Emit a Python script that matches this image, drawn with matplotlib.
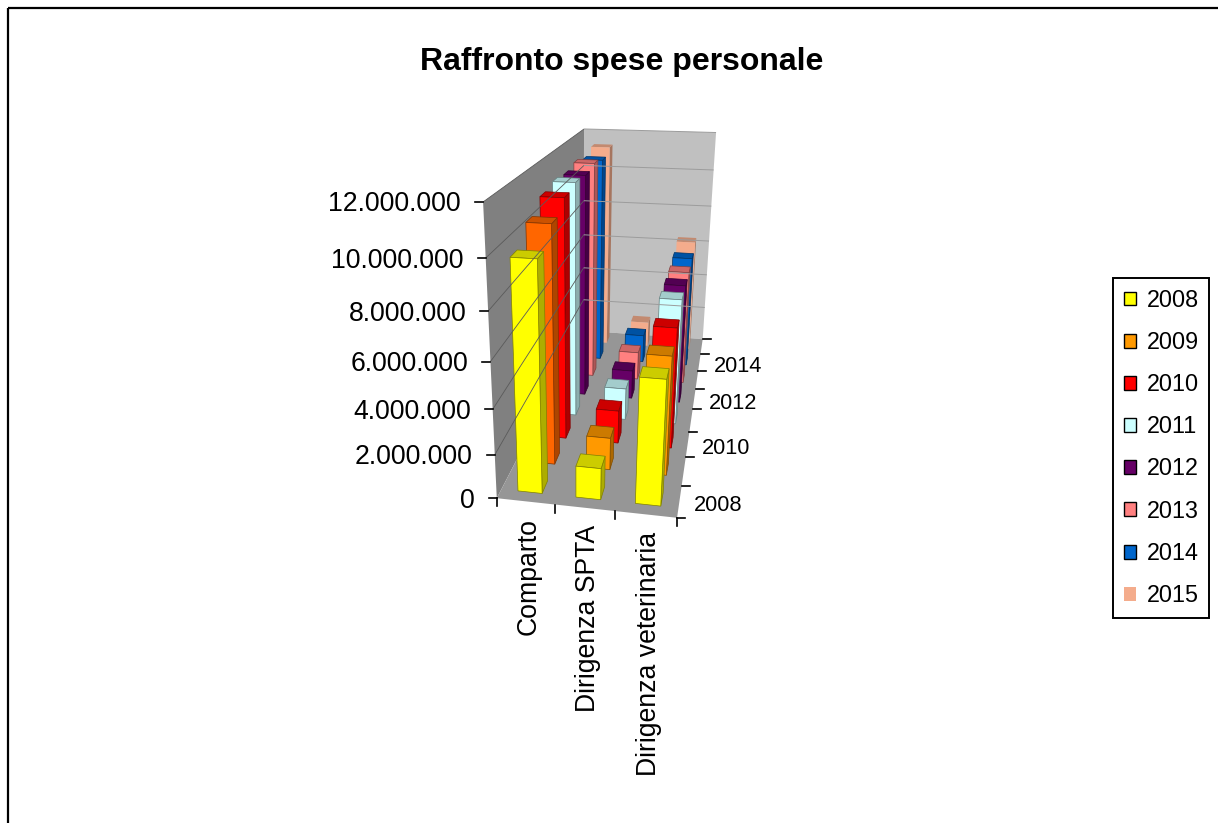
import numpy as np
import matplotlib
matplotlib.use("Agg")
import matplotlib.pyplot as plt
from matplotlib.patches import Patch, Polygon, Rectangle
from matplotlib.colors import to_rgb

plt.rcParams['font.family'] = ['Liberation Sans', 'DejaVu Sans']

years = [2008, 2009, 2010, 2011, 2012, 2013, 2014, 2015]
categories = ['Comparto', 'Dirigenza SPTA', 'Dirigenza veterinaria']
comparto = [9870000, 10580000, 11080000, 11240000, 11110000, 11250000, 11010000, 11300000]
spta = [1440000, 1520000, 1620000, 1610000, 1500000, 1510000, 1550000, 1440000]
veterinaria = [5530000, 5470000, 5770000, 6220000, 6110000, 6040000, 6080000, 6320000]
values = [comparto, spta, veterinaria]

z_ticks = [0, 2000000, 4000000, 6000000, 8000000, 10000000, 12000000]
z_max = 12000000
depth_labels = [2008, 2010, 2012, 2014]

colors = ['#FFFF00', '#FF9900', '#FF0000', '#CCFFFF', '#660066', '#FF8080', '#0066CC', '#F4AC8C']
comparto_2009_color = '#FF6600'

# perspective of the chart box, solved from where its corners sit on the canvas
box_xyz = np.array([(0, 0, 0), (1, 0, 0), (1, 1, 0), (0, 1, 0), (0, 0, 1),
                    (0, 1, 1), (1, 1, 1), (1, .5, 0), (0, 0, .5)], float)
box_uv = np.array([(497, 499), (679, 518), (704, 338), (584, 331), (483, 202),
                   (583, 129), (717, 133), (688.5, 410), (491, 360)], float)
rows = []
for (x, y, z), (u, v) in zip(box_xyz, box_uv):
    rows.append([x, y, z, 1, 0, 0, 0, 0, -u*x, -u*y, -u*z, -u])
    rows.append([0, 0, 0, 0, x, y, z, 1, -v*x, -v*y, -v*z, -v])
P = np.linalg.svd(np.array(rows))[2][-1].reshape(3, 4)


def project(x, y, z):
    p = P @ np.array([x, y, z, 1.0])
    return p[0]/p[2], p[1]/p[2]


def shade(color, k):
    return tuple(c*k for c in to_rgb(color))


fig = plt.figure(figsize=(12.18, 8.23), dpi=100)
ax = fig.add_axes([0, 0, 1, 1])
ax.set_xlim(0, 1218)
ax.set_ylim(823, 0)
ax.axis('off')

# outer chart border, runs off the right and bottom of the canvas
ax.add_patch(Rectangle((8, 8), 1400, 1000, fill=False, ec='black', lw=1.6))

ax.text(621.5, 62, 'Raffronto spese personale', fontsize=23, fontweight='bold',
        ha='center', va='center')

# walls and floor
wall_lw = 0
ax.add_patch(Polygon([project(*c) for c in [(0, 0, 0), (0, 1, 0), (0, 1, 1), (0, 0, 1)]],
                     fc='#808080', lw=wall_lw))
ax.add_patch(Polygon([project(*c) for c in [(0, 1, 0), (1, 1, 0), (1, 1, 1), (0, 1, 1)]],
                     fc='#C0C0C0', lw=wall_lw))
ax.add_patch(Polygon([project(*c) for c in [(0, 0, 0), (1, 0, 0), (1, 1, 0), (0, 1, 0)]],
                     fc='#969696', lw=wall_lw))

# value gridlines and ticks
for tick in z_ticks:
    z = tick/z_max
    p0, p1, p2 = project(0, 0, z), project(0, 1, z), project(1, 1, z)
    if tick > 0:
        ax.plot([p0[0], p1[0]], [p0[1], p1[1]], color='#5A5A5A', lw=0.6, solid_capstyle='butt')
        ax.plot([p1[0], p2[0]], [p1[1], p2[1]], color='#9C9C9C', lw=0.7, solid_capstyle='butt')
    ax.plot([p0[0]-8, p0[0]], [p0[1], p0[1]], color='black', lw=1.2)
    ax.text(p0[0]-22, p0[1]+2.5, f'{tick:,}'.replace(',', '.'), fontsize=19.2, ha='right', va='center')

# category ticks and labels
for i in range(len(categories)+1):
    px, py = project(i/len(categories), 0, 0)
    ax.plot([px, px], [py, py+8], color='black', lw=1.2)
for i, name in enumerate(categories):
    px, py = project((i+.5)/len(categories), 0, 0)
    ax.text(px+3, py+17, name, fontsize=19.2, rotation=90, ha='center', va='top')

# depth ticks and year labels
for i in range(len(years)+1):
    px, py = project(1, i/len(years), 0)
    ax.plot([px, px+8], [py, py], color='black', lw=1.2)
for year in depth_labels:
    px, py = project(1, (years.index(year)+.5)/len(years), 0)
    ax.text(px+14.5, py+4, str(year), fontsize=15.7, ha='left', va='center')

# bars, back rows first and left to right inside a row
bar_w = 0.42
bar_d = 0.42
for s in range(len(years)-1, -1, -1):
    for c in range(len(categories)):
        color = colors[s]
        if c == 0 and years[s] == 2009:
            color = comparto_2009_color
        x0 = (c+.5-bar_w/2)/len(categories)
        x1 = (c+.5+bar_w/2)/len(categories)
        y0 = (s+.5-bar_d/2)/len(years)
        y1 = (s+.5+bar_d/2)/len(years)
        z = values[c][s]/z_max
        front = [(x0, y0, 0), (x1, y0, 0), (x1, y0, z), (x0, y0, z)]
        right = [(x1, y0, 0), (x1, y1, 0), (x1, y1, z), (x1, y0, z)]
        top = [(x0, y0, z), (x1, y0, z), (x1, y1, z), (x0, y1, z)]
        if years[s] == 2015:
            edge = 'none'
        else:
            edge = shade(color, 0.5)
        ax.add_patch(Polygon([project(*q) for q in right], fc=shade(color, 0.68), ec=edge, lw=0.5))
        ax.add_patch(Polygon([project(*q) for q in top], fc=shade(color, 0.8), ec=edge, lw=0.5))
        ax.add_patch(Polygon([project(*q) for q in front], fc=color, ec=edge, lw=0.5))

# legend
handles = [Patch(facecolor=col, edgecolor='none' if y == 2015 else 'black', linewidth=1.0, label=str(y))
           for y, col in zip(years, colors)]
leg = ax.legend(handles=handles, loc='upper left', bbox_to_anchor=(1113, 278),
                bbox_transform=ax.transData, frameon=True, fancybox=False, framealpha=1,
                edgecolor='black', fontsize=16.8, handlelength=0.54, handleheight=0.54,
                handletextpad=0.44, labelspacing=0.822, borderpad=0.46, borderaxespad=0,
                labelcolor='black')
leg.get_frame().set_linewidth(1.4)

fig.savefig('out.png', dpi=100)
